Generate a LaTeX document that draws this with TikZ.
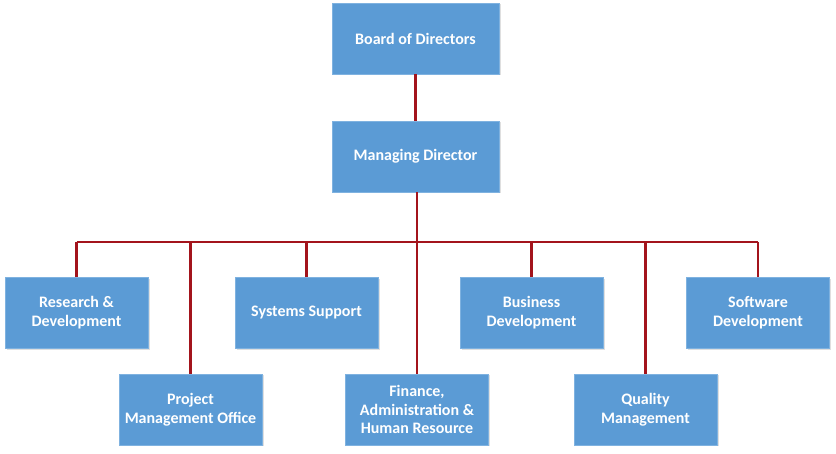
\documentclass[tikz,border=0pt]{standalone}
\usepackage{fontspec}
\setmainfont{Carlito}
\usetikzlibrary{shadows}
\definecolor{boxfill}{HTML}{5B9BD5}
\definecolor{boxline}{HTML}{7FB2E0}
\definecolor{linkred}{HTML}{A3141C}
\begin{document}
\begin{tikzpicture}[x=1pt,y=1pt,
  orgbox/.style={rectangle, fill=boxfill, draw=boxline, line width=0.8pt,
    minimum width=143pt, minimum height=71pt, align=center, text=white,
    font=\fontsize{16}{18.8}\selectfont\bfseries, inner sep=2pt,
    drop shadow={shadow xshift=1.5pt, shadow yshift=-1.5pt, opacity=0.25}},
  topbox/.style={orgbox, minimum width=167pt},
  link/.style={draw=linkred, line width=2.4pt}]
\useasboundingbox (0,0) rectangle (836,454);
\coordinate (busL) at (76.5,212);
\coordinate (busR) at (758,212);
\coordinate (mdb) at (417,0);
\draw[link] (busL) -- (busR);
\node[topbox] (board) at (415.5,415.5) {Board of Directors};
\node[topbox] (md) at (415.5,297.5) {Managing Director};
\node[orgbox] (rd) at (76.5,141) {Research \&\\Development};
\node[orgbox] (ss) at (306.5,141) {Systems Support};
\node[orgbox] (bd) at (531.5,141) {Business\\Development};
\node[orgbox] (sd) at (758,141) {Software\\Development};
\node[orgbox] (pmo) at (190.5,44.5) {Project\\Management Office};
\node[orgbox] (fin) at (417,44.5) {Finance,\\Administration \&\\Human Resource};
\node[orgbox] (qm) at (645.5,44.5) {Quality\\Management};
\draw[link] (board.south) -- (md.north);
\draw[link] (md.south -| mdb) -- (mdb |- busL);
\foreach \n in {rd,ss,bd,sd,pmo,fin,qm}{
  \draw[link] (\n.north) -- (\n.north |- busL);
}
\end{tikzpicture}
\end{document}
